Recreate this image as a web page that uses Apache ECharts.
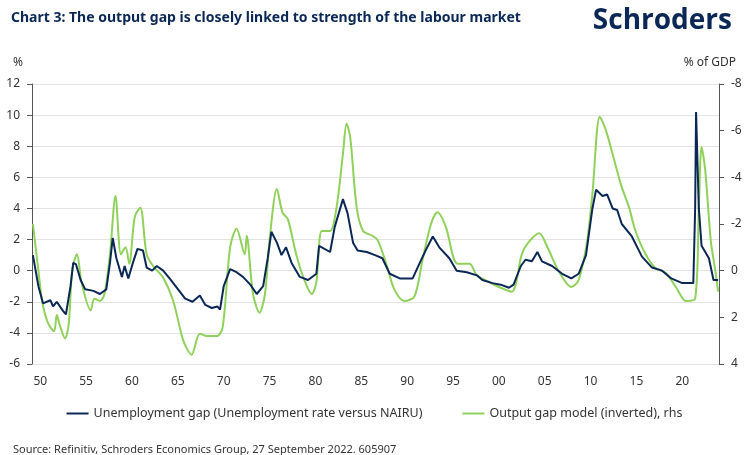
<!DOCTYPE html>
<html>
<head>
<meta charset="utf-8"/>
<title>ECharts</title>
<script src="https://cdn.jsdelivr.net/npm/echarts@6/dist/echarts.min.js"></script>
<style>body{margin:0;background:#fff}#main{width:749px;height:455px}</style>
</head>
<body>
<div id="main"></div>
<script>
var myChart = echarts.init(document.getElementById('main'));
// unemployment gap, % (lhs)
var unemp = [
[1949.2,1.0],[1949.8,-1.0],[1950.3,-2.1],[1951.1,-1.9],[1951.4,-2.3],[1951.8,-2.0],[1952.5,-2.6],[1952.8,-2.8],
[1953.3,-1.0],[1953.6,0.5],[1953.9,0.4],[1954.4,-0.6],[1954.9,-1.2],[1955.8,-1.3],[1956.5,-1.5],[1957.2,-1.2],
[1957.6,0.5],[1957.9,2.1],[1958.3,0.8],[1958.9,-0.4],[1959.2,0.3],[1959.6,-0.5],[1960.1,0.5],[1960.6,1.4],
[1961.2,1.3],[1961.6,0.2],[1962.2,0.0],[1962.7,0.3],[1963.4,0.0],[1964.1,-0.5],[1964.9,-1.1],[1965.8,-1.8],
[1966.6,-2.0],[1967.4,-1.6],[1968.0,-2.2],[1968.7,-2.4],[1969.3,-2.3],[1969.6,-2.5],[1970.0,-1.0],[1970.7,0.1],
[1971.4,-0.1],[1972.1,-0.4],[1972.9,-0.9],[1973.6,-1.5],[1974.3,-1.0],[1974.8,0.8],[1975.2,2.5],[1975.8,1.8],
[1976.3,1.0],[1976.8,1.5],[1977.4,0.5],[1978.3,-0.4],[1979.2,-0.6],[1980.1,-0.2],[1980.4,1.6],[1981.6,1.2],
[1982.1,2.8],[1983.0,4.6],[1983.5,3.7],[1984.1,1.8],[1984.6,1.3],[1985.6,1.2],[1986.5,1.0],[1987.3,0.8],
[1988.1,-0.2],[1989.2,-0.5],[1990.6,-0.5],[1991.3,0.4],[1992.1,1.4],[1992.8,2.2],[1993.5,1.5],[1994.6,0.8],
[1995.4,0.0],[1996.5,-0.1],[1997.6,-0.3],[1998.2,-0.6],[1999.3,-0.8],[2000.2,-0.9],[2001.1,-1.1],[2001.6,-0.9],
[2002.4,0.3],[2002.9,0.7],[2003.6,0.6],[2004.2,1.2],[2004.7,0.6],[2005.8,0.3],[2006.9,-0.2],[2007.9,-0.5],
[2008.7,-0.2],[2009.5,1.0],[2010.2,4.0],[2010.6,5.2],[2011.3,4.8],[2011.8,4.9],[2012.4,4.0],[2012.9,3.9],
[2013.4,3.0],[2014.5,2.2],[2015.6,0.9],[2016.7,0.2],[2017.8,0.0],[2018.8,-0.5],[2020.0,-0.8],[2021.2,-0.8],
[2021.4,4.0],[2021.5,10.2],[2021.8,4.0],[2022.1,1.6],[2022.9,0.8],[2023.4,-0.6],[2023.9,-0.6]
];
// output gap model, % of GDP (rhs, inverted)
var gap = [
[1949.2,-2.0],[1949.8,0.0],[1950.2,1.3],[1950.8,2.2],[1951.5,2.6],[1951.8,1.9],[1952.1,2.3],[1952.7,2.9],
[1953.1,2.3],[1953.5,-0.1],[1954.0,-0.7],[1954.5,0.5],[1955.5,1.7],[1955.9,1.2],[1956.5,1.3],[1957.0,1.0],
[1957.6,-0.7],[1958.2,-3.2],[1958.8,-0.7],[1959.3,-1.0],[1959.7,-0.3],[1960.3,-2.3],[1960.9,-2.7],[1961.6,-0.7],
[1962.3,-0.2],[1963.4,0.3],[1964.5,1.3],[1965.6,3.0],[1966.5,3.6],[1967.4,2.7],[1968.2,2.8],[1969.3,2.8],
[1969.9,2.4],[1970.7,-1.0],[1971.4,-1.8],[1972.3,-0.7],[1972.5,-1.5],[1973.2,1.0],[1973.9,1.8],[1974.5,1.0],
[1975.0,-1.3],[1975.8,-3.5],[1976.4,-2.5],[1977.0,-2.2],[1977.9,-0.7],[1978.7,0.3],[1979.6,1.0],[1980.1,0.5],
[1980.7,-1.7],[1981.6,-1.7],[1982.3,-2.7],[1983.0,-5.0],[1983.4,-6.3],[1983.8,-5.7],[1984.5,-2.7],[1985.2,-1.7],
[1986.2,-1.5],[1986.8,-1.3],[1987.8,-0.2],[1988.6,0.8],[1989.7,1.3],[1990.8,1.1],[1991.7,-0.5],[1992.6,-2.0],
[1993.3,-2.5],[1994.2,-1.9],[1995.5,-0.3],[1996.8,-0.3],[1997.6,0.2],[1999.0,0.5],[2000.0,0.7],[2001.4,0.9],
[2002.5,-0.7],[2003.2,-1.2],[2004.4,-1.6],[2005.3,-1.0],[2006.5,0.0],[2007.9,0.7],[2008.7,0.4],[2009.6,-1.2],
[2010.2,-3.3],[2011.0,-6.6],[2011.6,-6.1],[2012.4,-5.0],[2013.3,-3.7],[2014.2,-2.7],[2014.9,-1.7],[2016.0,-0.7],
[2017.1,-0.1],[2018.2,0.1],[2019.3,0.7],[2020.4,1.3],[2021.4,1.2],[2021.8,-2.7],[2022.1,-5.3],[2022.5,-4.3],
[2023.1,-1.3],[2023.6,0.0],[2023.9,0.9]
];
var option = {
    animation: false,
    textStyle: {fontFamily: 'Noto Sans'},
    title: [
        {text: 'Chart 3: The output gap is closely linked to strength of the labour market', left: 6, top: 6,
         textStyle: {color: '#0b2756', fontSize: 14, fontWeight: 'bold'}},
        {text: 'Schroders', right: 12, top: 2, textStyle: {color: '#0b2756', fontSize: 28, fontWeight: 'bold', fontFamily: 'Open Sans'}},
        {text: '%', left: 8, top: 52, textStyle: {color: '#333', fontSize: 12, fontWeight: 'normal'}},
        {text: '% of GDP', right: 8, top: 52, textStyle: {color: '#333', fontSize: 12, fontWeight: 'normal'}},
        {text: 'Source: Refinitiv, Schroders Economics Group, 27 September 2022. 605907', left: 8, top: 439,
         textStyle: {color: '#333', fontSize: 11, fontWeight: 'normal'}}
    ],
    legend: {
        bottom: 30, left: 'center', itemGap: 40, itemWidth: 22, itemHeight: 2,
        icon: 'rect', textStyle: {color: '#333', fontSize: 12.5},
        data: ['Unemployment gap (Unemployment rate versus NAIRU)', 'Output gap model (inverted), rhs']
    },
    grid: {left: 32, right: 30, top: 84, bottom: 91},
    xAxis: {
        type: 'value', min: 1949.1, max: 2024,
        axisLine: {show: false}, axisTick: {show: false}, splitLine: {show: false},
        axisLabel: {customValues: [1950,1955,1960,1965,1970,1975,1980,1985,1990,1995,2000,2005,2010,2015,2020],
            color: '#333', fontSize: 12, margin: 12,
            formatter: function (v) { return String(v).slice(2); }}
    },
    yAxis: [
        {type: 'value', min: -6, max: 12, interval: 2, position: 'left',
         axisLabel: {color: '#333', fontSize: 12, margin: 12},
         splitLine: {lineStyle: {color: '#e3e3e3'}}},
        {type: 'value', min: -8, max: 4, interval: 2, inverse: true, position: 'right',
         axisLabel: {color: '#333', fontSize: 12, margin: 12},
         splitLine: {show: false}}
    ],
    series: [
        {name: 'Output gap model (inverted), rhs', type: 'line', yAxisIndex: 1, showSymbol: false,
         smooth: 0.3, lineStyle: {color: '#8fd15a', width: 2}, itemStyle: {color: '#8fd15a'}, data: gap},
        {name: 'Unemployment gap (Unemployment rate versus NAIRU)', type: 'line', yAxisIndex: 0, showSymbol: false,
         lineStyle: {color: '#0b2756', width: 2}, itemStyle: {color: '#0b2756'}, data: unemp}
    ]
};
myChart.setOption(option);
</script>
</body>
</html>
